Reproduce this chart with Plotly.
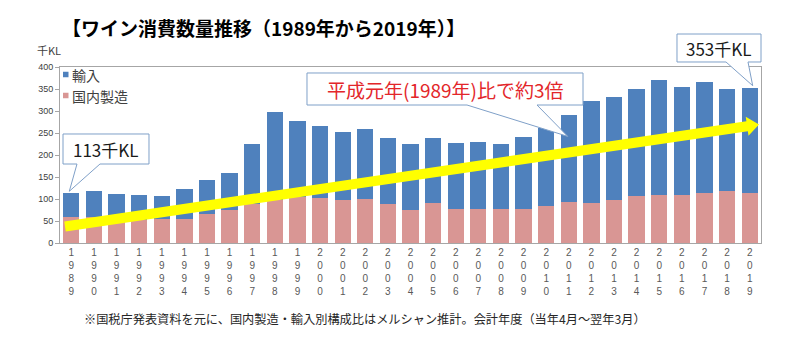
import math
import plotly.graph_objects as go

# Wine consumption volume (thousand kL), fiscal years 1989-2019
years = [str(y) for y in range(1989, 2020)]
domestic = [59, 58, 50, 52, 55, 55, 65, 76, 88, 98, 105, 103, 97, 101, 88, 76,
            91, 78, 78, 78, 78, 83, 93, 91, 98, 106, 110, 108, 114, 119, 113]
imports = [54, 60, 62, 56, 52, 68, 79, 83, 137, 200, 173, 163, 155, 157, 150, 150,
           147, 150, 151, 148, 163, 179, 197, 231, 234, 245, 261, 246, 251, 232, 240]
tick_text = ["<br>".join(list(y)) for y in years]
series_names = ["輸入", "国内製造"]
y_max = 400

totals = [d + i for d, i in zip(domestic, imports)]

FONT = "Noto Sans CJK JP"
NUM_FONT = "Liberation Sans"
BLUE = "#4F81BD"
PINK = "#D99694"
CALLOUT_LINE = "#7FA0C8"

# plot area in pixels
L, T, W, H = 60, 67, 701, 176
FIG_W, FIG_H = 800, 344


def px(x):
    return (x - L) / W


def py(y):
    return (T + H - y) / H


def path(points):
    return "M " + " L ".join(f"{px(x):.5f},{py(y):.5f}" for x, y in points) + " Z"


def bar_top_px(i):
    """Pixel position of the top of bar i (category centre, stacked total)."""
    step = W / len(years)
    return L + step * (i + 0.5), T + H - totals[i] / y_max * H


fig = go.Figure()
fig.add_trace(go.Bar(x=years, y=domestic, name=series_names[1], marker_color=PINK,
                     marker_line_width=0, showlegend=False))
fig.add_trace(go.Bar(x=years, y=imports, name=series_names[0], marker_color=BLUE,
                     marker_line_width=0, showlegend=False))

shapes = []
annotations = []

# compact legend in the top-left corner of the plot area
for (name, color, cy) in [(series_names[0], BLUE, 74.5), (series_names[1], PINK, 95.5)]:
    shapes.append(dict(type="rect", xref="paper", yref="paper",
                       x0=px(63), x1=px(68.5), y0=py(cy + 2.75), y1=py(cy - 2.75),
                       fillcolor=color, line=dict(width=0)))
    annotations.append(dict(xref="paper", yref="paper", x=px(70), y=py(cy),
                            text=name, showarrow=False, xanchor="left", yanchor="middle",
                            font=dict(family=FONT, size=14, color="#404040")))

# yellow trend arrow
sx, sy = 65, 226.5
tx, ty = 759, 124.5
dx, dy = tx - sx, ty - sy
ln = math.hypot(dx, dy)
ux, uy = dx / ln, dy / ln
nx, ny = -uy, ux
bw, hw, hl = 5.0, 9.5, 12.0
bx, by = tx - ux * hl, ty - uy * hl
arrow_pts = [
    (sx + nx * bw, sy + ny * bw),
    (bx + nx * bw, by + ny * bw),
    (bx + nx * hw, by + ny * hw),
    (tx, ty),
    (bx - nx * hw, by - ny * hw),
    (bx - nx * bw, by - ny * bw),
    (sx - nx * bw, sy - ny * bw),
]
shapes.append(dict(type="path", xref="paper", yref="paper", path=path(arrow_pts),
                   fillcolor="#FFFF00", line=dict(width=0), layer="above"))


def callout(x0, y0, x1, y1, w_left, w_right, tip, text, color, size):
    pts = [(x0, y0), (x1, y0), (x1, y1), (w_right, y1), tip, (w_left, y1), (x0, y1)]
    shapes.append(dict(type="path", xref="paper", yref="paper", path=path(pts),
                       fillcolor="white", line=dict(color=CALLOUT_LINE, width=1),
                       layer="above"))
    annotations.append(dict(xref="paper", yref="paper", x=px((x0 + x1) / 2),
                            y=py((y0 + y1) / 2), text=text, showarrow=False,
                            xanchor="center", yanchor="middle",
                            font=dict(family=FONT, size=size, color=color)))


tip0 = bar_top_px(0)
callout(63, 134, 149, 164, 77, 100, (tip0[0] - 2, tip0[1] - 2),
        f"{totals[0]}千KL", "#1a1a1a", 17)

tip22 = bar_top_px(22)
callout(307, 73, 583, 105, 467, 537, (tip22[0] - 1, tip22[1] + 21),
        "平成元年(1989年)比で約3倍", "#E3262A", 19)

tip30 = bar_top_px(30)
callout(677, 34, 761, 62, 726, 748, (tip30[0] + 3, tip30[1] - 2),
        f"{totals[-1]}千KL", "#1a1a1a", 17)

annotations.append(dict(xref="paper", yref="paper", x=px(263.5), y=py(28),
                        text="<b>【ワイン消費数量推移（1989年から2019年）】</b>",
                        showarrow=False, xanchor="center", yanchor="middle",
                        font=dict(family=FONT, size=19, color="#000000")))
annotations.append(dict(xref="paper", yref="paper", x=px(35), y=py(50),
                        text="千KL", showarrow=False, xanchor="left", yanchor="middle",
                        font=dict(family=FONT, size=11, color="#404040")))
annotations.append(dict(xref="paper", yref="paper", x=px(364.5), y=py(319),
                        text="※国税庁発表資料を元に、国内製造・輸入別構成比はメルシャン推計。会計年度（当年4月～翌年3月）",
                        showarrow=False, xanchor="center", yanchor="middle",
                        font=dict(family=FONT, size=12.2, color="#262626")))

fig.update_layout(
    width=FIG_W, height=FIG_H,
    margin=dict(l=L, r=FIG_W - L - W, t=T, b=FIG_H - T - H, pad=0),
    barmode="stack", bargap=0.28,
    plot_bgcolor="white", paper_bgcolor="white",
    font=dict(family=FONT, color="#404040"),
    showlegend=False,
    shapes=shapes,
    annotations=annotations,
)
fig.update_xaxes(type="category", tickmode="array", tickvals=years, ticktext=tick_text,
                 tickfont=dict(family=NUM_FONT, size=10, color="#595959"),
                 showline=True, linecolor="#A6A6A6", linewidth=1, mirror=True,
                 ticks="", showgrid=False, fixedrange=True)
fig.update_yaxes(range=[0, y_max], dtick=50,
                 tickfont=dict(family=NUM_FONT, size=9, color="#404040"),
                 showline=True, linecolor="#A6A6A6", linewidth=1, mirror=True,
                 ticks="outside", ticklen=4, tickcolor="#A6A6A6",
                 showgrid=False, zeroline=False, fixedrange=True)

fig.write_html("out.html")
